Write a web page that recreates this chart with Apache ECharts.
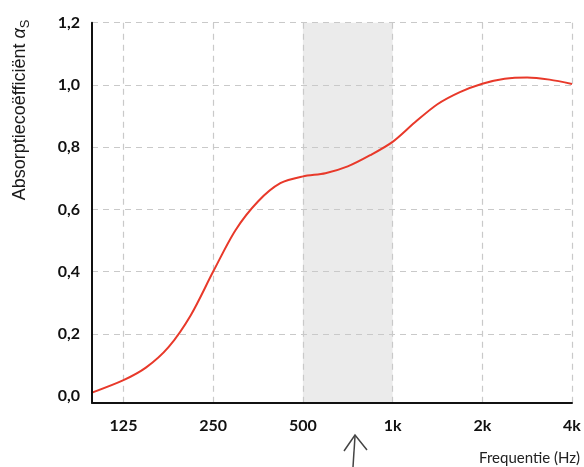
<!DOCTYPE html>
<html><head><meta charset="utf-8">
<script src="https://cdn.jsdelivr.net/npm/echarts@6/dist/echarts.min.js"></script>
<style>html,body{margin:0;padding:0;background:#fff}#c{width:584px;height:467px}</style>
</head><body><div id="c"></div>
<script>
// Data (frequency in Hz, absorption coefficient)
const freqHz = [98,125,149,177,210,250,297,354,420,500,595,707,841,1000,1189,1414,1682,2000,2378,2828,3364,4000];
const absorption = [0.011,0.051,0.092,0.157,0.259,0.40,0.533,0.626,0.684,0.706,0.716,0.738,0.774,0.817,0.880,0.938,0.977,1.004,1.020,1.024,1.017,1.003];
const tickHz = [125,250,500,1000,2000,4000];
const tickLabels = ['125','250','500','1k','2k','4k'];
const yTicks = [0,0.2,0.4,0.6,0.8,1.0,1.2];
const bandHz = [500,1000];
const xMinHz = 98;
const xMaxHz = 4000;
const yMin = -0.0215;
const yMax = 1.2;

const oct = f => Math.log2(f / 125);
const tickOct = tickHz.map(oct);

const chart = echarts.init(document.getElementById('c'));
const gridLine = {color:'#c9c9c9', width:1.2, type:[6,5]};
chart.setOption({
  animation:false,
  grid:{left:92, right:12, top:22.7, height:380, outerBoundsMode:'none', containLabel:false},
  xAxis:{
    type:'value', min:oct(xMinHz), max:oct(xMaxHz), z:10,
    axisLine:{show:true, onZero:false, lineStyle:{color:'#111', width:2}},
    axisTick:{show:false},
    splitLine:{show:false},
    axisLabel:{
      customValues:tickOct, margin:15,
      fontFamily:'Lato', fontWeight:'bold', fontSize:16, color:'#111',
      formatter:v=>{let i=0,b=1e9;tickOct.forEach((t,k)=>{if(Math.abs(t-v)<b){b=Math.abs(t-v);i=k;}});return tickLabels[i];}
    }
  },
  yAxis:{
    type:'value', min:yMin, max:yMax, z:10,
    axisLine:{show:true, onZero:false, lineStyle:{color:'#111', width:2}},
    axisTick:{show:false},
    splitLine:{show:false},
    axisLabel:{
      customValues:yTicks, margin:12,
      fontFamily:'Lato', fontWeight:'bold', fontSize:16, color:'#111',
      formatter:v=>v.toFixed(1).replace('.',',')
    }
  },
  series:[
    {type:'line', data:[], z:1, silent:true,
     markArea:{silent:true, itemStyle:{color:'#ebebeb'}, data:[[{xAxis:oct(bandHz[0])},{xAxis:oct(bandHz[1])}]]}},
    {type:'line', data:[], z:2, silent:true,
     markLine:{silent:true, symbol:'none', label:{show:false}, lineStyle:gridLine, animation:false,
       data:tickOct.map(v=>({xAxis:v})).concat(yTicks.filter(v=>v>0).map(v=>({yAxis:v})))}},
    {type:'line', z:5, smooth:0.3, showSymbol:false, symbol:'none',
     lineStyle:{color:'#e8392a', width:2},
     data:freqHz.map((f,i)=>[oct(f), absorption[i]])}
  ],
  graphic:[
    {type:'text', x:20, y:110, rotation:Math.PI/2,
     style:{text:'{t|Absorptiecoëfficiënt }{a|α}{s|S}', align:'center', verticalAlign:'middle',
       rich:{
         t:{fontFamily:'Liberation Sans', fontSize:18, fill:'#1a1a1a', lineHeight:24, verticalAlign:'middle'},
         a:{fontFamily:'Liberation Sans', fontStyle:'italic', fontSize:18, fill:'#1a1a1a', lineHeight:24, verticalAlign:'middle'},
         s:{fontFamily:'Liberation Sans', fontSize:13, fill:'#1a1a1a', lineHeight:13, verticalAlign:'bottom'}
       }}},
    {type:'text', x:580, y:458,
     style:{text:'Frequentie (Hz)', align:'right', verticalAlign:'middle', fontFamily:'Lato', fontSize:15, fill:'#222'}},
    {type:'polyline', shape:{points:[[353,467],[355,436]]}, style:{stroke:'#444', lineWidth:1.5, fill:null}},
    {type:'polyline', shape:{points:[[344,451],[355,435],[367,450]]}, style:{stroke:'#444', lineWidth:1.5, fill:null}}
  ]
});
</script></body></html>
